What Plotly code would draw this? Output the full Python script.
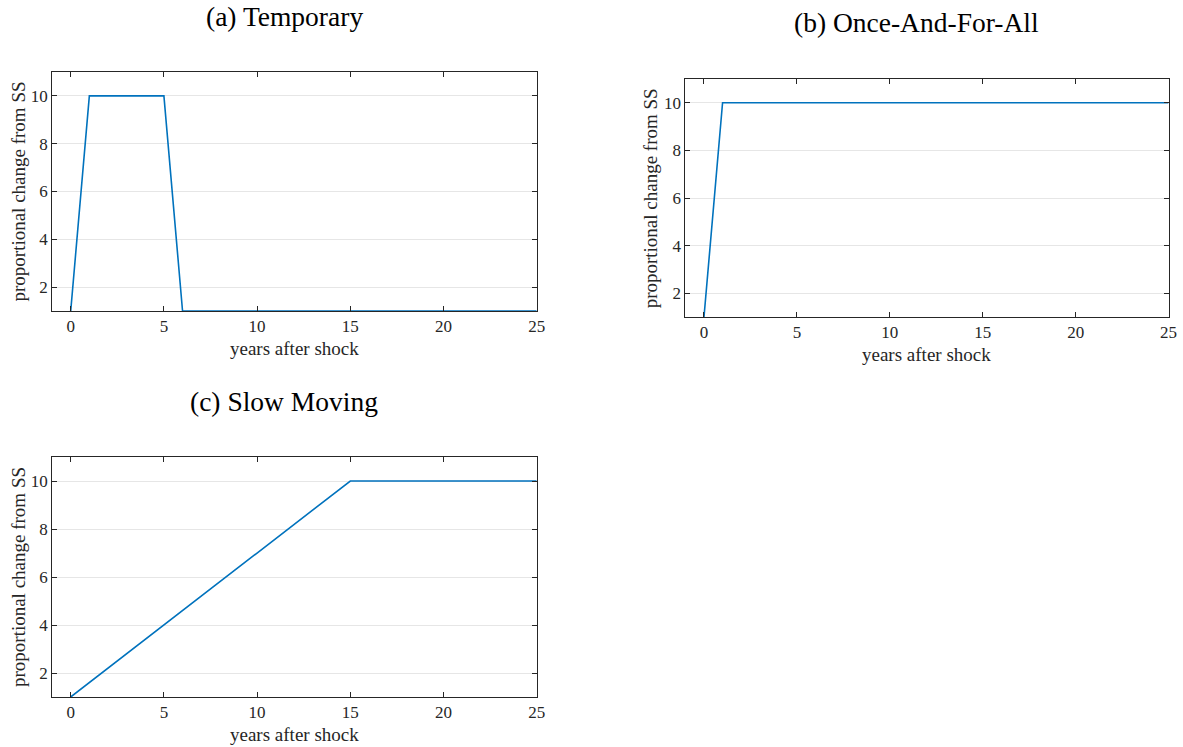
import plotly.graph_objects as go

years = list(range(0, 26))
temporary = [1, 10, 10, 10, 10, 10] + [1] * 20
once_and_for_all = [1] + [10] * 25
slow_moving = [1, 1.6, 2.2, 2.8, 3.4, 4.0, 4.6, 5.2, 5.8, 6.4, 7.0, 7.6, 8.2, 8.8, 9.4, 10,
               10, 10, 10, 10, 10, 10, 10, 10, 10, 10]

titles = ["(a) Temporary", "(b) Once-And-For-All", "(c) Slow Moving"]
series = [temporary, once_and_for_all, slow_moving]
x_ticks = [0, 5, 10, 15, 20, 25]
y_ticks = [2, 4, 6, 8, 10]
x_label = "years after shock"
y_label = "proportional change from SS"

W, H = 1183, 747
SX = 1.009  # compensates a slight horizontal squeeze seen in the rendered page
FONT = "Liberation Serif"
TXT = "#262626"
LINE = "#0072BD"

# plot areas in pixels: (left, right, top, bottom)
boxes = [(52, 536, 72, 311), (684.5, 1167, 79, 317), (52, 536, 457, 697)]
title_centers = [(284, 17), (915, 22), (284, 401)]


def px(x):
    return min(1.0, x * SX / W)


fig = go.Figure()
layout = dict(
    width=W, height=H, autosize=False, margin=dict(l=0, r=0, t=0, b=0, pad=0),
    paper_bgcolor="white", plot_bgcolor="white", showlegend=False,
    font=dict(family=FONT, color=TXT, size=17),
)
annotations = []
for i, (ys, (l, r, t, b)) in enumerate(zip(series, boxes)):
    n = "" if i == 0 else str(i + 1)
    fig.add_trace(go.Scatter(x=years, y=ys, mode="lines",
                             line=dict(color=LINE, width=1.6),
                             xaxis="x" + n, yaxis="y" + n))
    common = dict(showline=True, linecolor=TXT, linewidth=1, mirror="ticks",
                  ticks="inside", ticklen=5, tickcolor=TXT, tickwidth=1,
                  zeroline=False, tickfont=dict(family=FONT, size=17, color=TXT))
    layout["xaxis" + n] = dict(common, domain=[px(l), px(r)], anchor="y" + n,
                               range=[-1, 25], tickvals=x_ticks, showgrid=False)
    layout["yaxis" + n] = dict(common, domain=[1 - b / H, 1 - t / H], anchor="x" + n,
                               range=[1, 11], tickvals=y_ticks, showgrid=True,
                               gridcolor="#e6e6e6", gridwidth=1)
    cx, cy = title_centers[i]
    annotations.append(dict(text=titles[i], x=px(cx), y=1 - cy / H, xref="paper", yref="paper",
                            showarrow=False, xanchor="center", yanchor="middle",
                            font=dict(family=FONT, size=27.5, color="black")))
    annotations.append(dict(text=x_label, x=px((l + r) / 2), y=1 - (b + 37) / H,
                            xref="paper", yref="paper", showarrow=False,
                            xanchor="center", yanchor="middle",
                            font=dict(family=FONT, size=19, color=TXT)))
    annotations.append(dict(text=y_label, x=px(l - 34), y=1 - (t + b) / 2 / H,
                            xref="paper", yref="paper", showarrow=False, textangle=-90,
                            xanchor="center", yanchor="middle",
                            font=dict(family=FONT, size=19, color=TXT)))
layout["annotations"] = annotations
fig.update_layout(**layout)
fig.write_html(
    "out.html",
    config={"displayModeBar": False, "responsive": False},
    post_script=("document.body.style.margin='0';"
                 "document.body.style.overflow='hidden';"
                 "document.documentElement.style.overflow='hidden';"),
)
